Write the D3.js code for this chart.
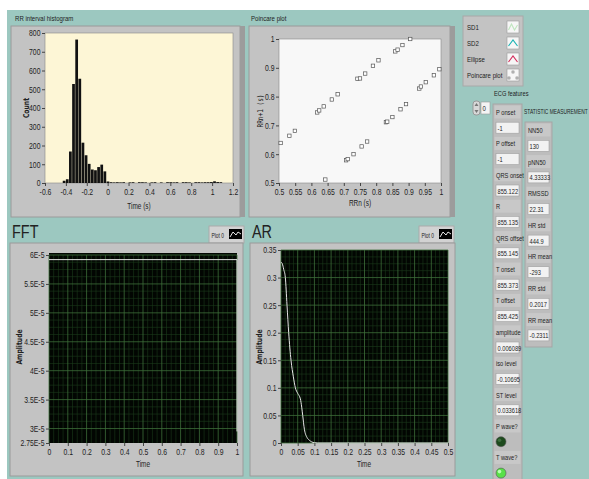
<!DOCTYPE html>
<html>
<head>
<meta charset="utf-8">
<script src="https://cdnjs.cloudflare.com/ajax/libs/d3/7.8.5/d3.min.js"></script>
<style>
  body { margin: 0; background: #fff; }
  text { font-family: "Liberation Sans", Arial, sans-serif; fill: #222; }
</style>
</head>
<body>
<div id="chart"></div>
<script>
// ---- data ----
// RR interval histogram: bins of 0.03 s starting at -0.43 s
const histStart = -0.43;
const histBinWidth = 0.03;
const histCounts = [12, 20, 168, 528, 765, 556, 215, 148, 102, 72, 68, 85, 98, 62, 8,
  4, 3, 4, 3, 4, 0, 3, 4, 0, 4, 4, 3, 0, 3, 4, 0, 3, 0, 4, 4, 3, 4, 0, 4, 4,
  3, 0, 4, 4, 3, 4, 4, 5, 9, 5, 4, 0];

// Poincare plot
const pcRRn  = [0.505, 0.532, 0.549, 0.618, 0.624, 0.638, 0.663, 0.681, 0.742, 0.750, 0.766, 0.790, 0.807, 0.859, 0.866, 0.881, 0.905,
                0.643, 0.707, 0.712, 0.730, 0.755, 0.772, 0.830, 0.834, 0.850, 0.875, 0.892, 0.933, 0.938, 0.953, 0.978, 0.995];
const pcRRn1 = [0.639, 0.664, 0.681, 0.745, 0.752, 0.766, 0.790, 0.808, 0.862, 0.863, 0.880, 0.907, 0.926, 0.957, 0.963, 0.979, 1.000,
                0.512, 0.579, 0.583, 0.600, 0.627, 0.644, 0.711, 0.713, 0.729, 0.756, 0.774, 0.828, 0.835, 0.850, 0.874, 0.895];

// FFT
const fftTime = [0, 1, 1];
const fftAmp  = [5.92e-5, 5.92e-5, 2.95e-5];
const fftYTicks = [2.75e-5, 3e-5, 3.5e-5, 4e-5, 4.5e-5, 5e-5, 5.5e-5, 6e-5];

// AR
const arTime = [0, 0.004, 0.008, 0.013, 0.018, 0.023, 0.03, 0.037, 0.043, 0.05, 0.058, 0.062, 0.065, 0.07, 0.078, 0.085, 0.092, 0.1, 0.11, 0.5];
const arAmp  = [0.328, 0.325, 0.315, 0.3, 0.25, 0.2, 0.15, 0.12, 0.1, 0.09, 0.08, 0.065, 0.05, 0.025, 0.01, 0.005, 0.002, 0.0005, 0, 0];

// right hand side
const legendNames = ["SD1", "SD2", "Ellipse", "Poincare plot"];
const ecgLabels = ["P onset", "P offset", "QRS onset", "R", "QRS offset", "T onset", "T offset", "amplitude", "iso level", "ST level", "P wave?", "T wave?"];
const ecgValues = ["-1", "-1", "855.122", "855.135", "855.145", "855.373", "855.425", "0.006089", "-0.10695", "0.033618", "off", "on"];
const statLabels = ["NN50", "pNN50", "RMSSD", "HR std", "HR mean", "RR std", "RR mean"];
const statValues = ["130", "4.33333", "22.31", "444.9", "-293", "0.2017", "-0.2311"];

// ---- drawing ----
const SX = 0.76; // LabVIEW's fonts are narrow, squeeze the text horizontally

const svg = d3.select("#chart").append("svg")
    .attr("width", 589)
    .attr("height", 479);

svg.append("rect").attr("x", 7).attr("y", 10).attr("width", 582).attr("height", 469).attr("fill", "#9cc8c0");

// narrow text helper
function label(parent, x, y, s, size, rot, sx) {
    return parent.append("text")
        .attr("transform", `translate(${x},${y})${rot ? " rotate(" + rot + ")" : ""} scale(${sx || SX},1)`)
        .style("font-size", size + "px")
        .text(s);
}

function frame(x, y, w, h) {
    svg.append("rect").attr("x", x).attr("y", y).attr("width", w).attr("height", h)
        .attr("fill", "#c3c3c3").attr("stroke", "#9a9a9a");
}

function styleAxis(g) {
    g.select(".domain").remove();
    g.selectAll(".tick line").attr("stroke", "#444");
    g.selectAll(".tick text").style("font-size", "9px").attr("fill", "#222")
        .attr("transform", `scale(${SX},1)`);
}

// grid with minor lines between majors
function grid(g, x, y, xt, yt, sub, majorCol, minorCol) {
    const [x0, x1] = x.range(), [y0, y1] = y.range();
    const minor = (t) => {
        const out = [];
        for (let i = 0; i < t.length - 1; i++)
            for (let k = 1; k < sub; k++) out.push(t[i] + (t[i + 1] - t[i]) * k / sub);
        return out;
    };
    g.selectAll(null).data(minor(xt)).enter().append("line")
        .attr("x1", d => x(d)).attr("x2", d => x(d)).attr("y1", y0).attr("y2", y1)
        .attr("stroke", minorCol).attr("stroke-width", 0.6);
    g.selectAll(null).data(minor(yt)).enter().append("line")
        .attr("y1", d => y(d)).attr("y2", d => y(d)).attr("x1", x0).attr("x2", x1)
        .attr("stroke", minorCol).attr("stroke-width", 0.6);
    g.selectAll(null).data(xt).enter().append("line")
        .attr("x1", d => x(d)).attr("x2", d => x(d)).attr("y1", y0).attr("y2", y1)
        .attr("stroke", majorCol).attr("stroke-width", 0.8);
    g.selectAll(null).data(yt).enter().append("line")
        .attr("y1", d => y(d)).attr("y2", d => y(d)).attr("x1", x0).attr("x2", x1)
        .attr("stroke", majorCol).attr("stroke-width", 0.8);
}

const fmt = d => String(+d.toFixed(3));

// ---------- RR interval histogram ----------
label(svg, 15, 21, "RR interval histogram", 8);
frame(11, 26, 229, 191);
svg.append("rect").attr("x", 240).attr("y", 26).attr("width", 5).attr("height", 191).attr("fill", "#9c9c9c");

const hx = d3.scaleLinear().domain([-0.6, 1.2]).range([45, 233]);
const hy = d3.scaleLinear().domain([0, 800]).range([183, 33]);

svg.append("rect").attr("x", 45).attr("y", 33).attr("width", 188).attr("height", 150)
    .attr("fill", "#fdf6d6").attr("stroke", "#888").attr("stroke-width", 0.6);

svg.append("g").selectAll("rect").data(histCounts).enter().append("rect")
    .attr("x", (d, i) => hx(histStart + i * histBinWidth))
    .attr("width", hx(histBinWidth) - hx(0) - 0.4)
    .attr("y", d => hy(d))
    .attr("height", d => hy(0) - hy(d))
    .attr("fill", "#111");

svg.append("g").attr("transform", "translate(0,183)")
    .call(d3.axisBottom(hx).tickValues(d3.range(-0.6, 1.21, 0.2)).tickFormat(fmt).tickSize(3))
    .call(styleAxis);
svg.append("g").attr("transform", "translate(45,0)")
    .call(d3.axisLeft(hy).tickValues(d3.range(0, 801, 100)).tickSize(3))
    .call(styleAxis);
label(svg, 139, 209, "Time (s)", 8.5).attr("text-anchor", "middle");
label(svg, 29, 108, "Count", 8, -90).attr("text-anchor", "middle")
    .style("font-family", "DejaVu Sans").style("font-weight", "bold").attr("fill", "#333");

// ---------- Poincare plot ----------
label(svg, 251, 21, "Poincare plot", 8);
frame(249, 26, 201, 191);
svg.append("rect").attr("x", 450).attr("y", 26).attr("width", 5).attr("height", 191).attr("fill", "#9c9c9c");

const px = d3.scaleLinear().domain([0.5, 1]).range([279, 441]);
const py = d3.scaleLinear().domain([0.5, 1]).range([183, 39]);

svg.append("rect").attr("x", 279).attr("y", 39).attr("width", 162).attr("height", 144)
    .attr("fill", "#f8f8f8").attr("stroke", "#888").attr("stroke-width", 0.6);

svg.append("g").selectAll("rect").data(pcRRn).enter().append("rect")
    .attr("x", (d, i) => px(d) - 1.7)
    .attr("y", (d, i) => py(pcRRn1[i]) - 1.7)
    .attr("width", 3.4).attr("height", 3.4)
    .attr("fill", "#fff").attr("stroke", "#555").attr("stroke-width", 0.7);

svg.append("g").attr("transform", "translate(0,183)")
    .call(d3.axisBottom(px).tickValues(d3.range(0.5, 1.001, 0.05)).tickFormat(fmt).tickSize(3))
    .call(styleAxis);
svg.append("g").attr("transform", "translate(279,0)")
    .call(d3.axisLeft(py).tickValues(d3.range(0.5, 1.001, 0.1)).tickFormat(fmt).tickSize(3))
    .call(styleAxis);
label(svg, 360, 206, "RRn (s)", 8.5).attr("text-anchor", "middle");
label(svg, 263, 111, "RRn+1 (s)", 8, -90).attr("text-anchor", "middle")
    .style("font-family", "DejaVu Sans Mono").attr("fill", "#333");

// ---------- FFT / AR shared pieces ----------
function plotLegend(x, y) {
    const g = svg.append("g").attr("transform", `translate(${x},${y})`);
    g.append("rect").attr("width", 35).attr("height", 17).attr("fill", "#d2d2d2").attr("stroke", "#aaa");
    label(g, 2.5, 11.5, "Plot 0", 7, 0, 0.7);
    g.append("rect").attr("x", 20).attr("y", 3).attr("width", 13).attr("height", 10).attr("fill", "#000");
    g.append("path").attr("d", "M21,11 L24,6 L27,9 L29,6 L32,8").attr("fill", "none").attr("stroke", "#fff").attr("stroke-width", 0.9);
}

// ---------- FFT ----------
label(svg, 12, 238, "FFT", 19);
plotLegend(209, 226);
frame(10, 243, 233, 233);

const fx = d3.scaleLinear().domain([0, 1]).range([49, 237]);
const fy = d3.scaleLinear().domain([2.75e-5, 6e-5]).range([443, 255]);

svg.append("rect").attr("x", 49).attr("y", 253).attr("width", 188).attr("height", 190).attr("fill", "#020602");
grid(svg.append("g"), fx, fy, d3.range(0, 1.001, 0.1), fftYTicks.slice(1), 4, "#3d6e3a", "#1b3a1b");

svg.append("path")
    .datum(fftTime.map((t, i) => [t, fftAmp[i]]))
    .attr("d", d3.line().x(d => fx(d[0])).y(d => fy(d[1])))
    .attr("fill", "none").attr("stroke", "#e6e6e6").attr("stroke-width", 1);

svg.append("g").attr("transform", "translate(0,443)")
    .call(d3.axisBottom(fx).tickValues(d3.range(0, 1.001, 0.1)).tickFormat(fmt).tickSize(3))
    .call(styleAxis);
svg.append("g").attr("transform", "translate(49,0)")
    .call(d3.axisLeft(fy).tickValues(fftYTicks).tickFormat(d => +(d * 1e5).toFixed(2) + "E-5").tickSize(3))
    .call(styleAxis);
label(svg, 143, 467, "Time", 8.5).attr("text-anchor", "middle");
label(svg, 22, 347, "Amplitude", 8, -90).attr("text-anchor", "middle")
    .style("font-family", "DejaVu Sans").style("font-weight", "bold").attr("fill", "#333");

// ---------- AR ----------
label(svg, 252, 238, "AR", 19);
plotLegend(419, 226);
frame(250, 243, 205, 233);

const ax = d3.scaleLinear().domain([0, 0.5]).range([281, 448]);
const ay = d3.scaleLinear().domain([0, 0.35]).range([443, 250]);

svg.append("rect").attr("x", 281).attr("y", 250).attr("width", 167).attr("height", 193).attr("fill", "#020602");
grid(svg.append("g"), ax, ay, d3.range(0, 0.501, 0.05), d3.range(0, 0.351, 0.05), 4, "#3d6e3a", "#1b3a1b");

svg.append("path")
    .datum(arTime.map((t, i) => [t, arAmp[i]]))
    .attr("d", d3.line().curve(d3.curveMonotoneX).x(d => ax(d[0])).y(d => ay(d[1])))
    .attr("fill", "none").attr("stroke", "#e6e6e6").attr("stroke-width", 1);

svg.append("g").attr("transform", "translate(0,443)")
    .call(d3.axisBottom(ax).tickValues(d3.range(0, 0.501, 0.05)).tickFormat(fmt).tickSize(3))
    .call(styleAxis);
svg.append("g").attr("transform", "translate(281,0)")
    .call(d3.axisLeft(ay).tickValues(d3.range(0, 0.351, 0.05)).tickFormat(fmt).tickSize(3))
    .call(styleAxis);
label(svg, 364, 467, "Time", 8.5).attr("text-anchor", "middle");
label(svg, 262, 347, "Amplitude", 8, -90).attr("text-anchor", "middle")
    .style("font-family", "DejaVu Sans").style("font-weight", "bold").attr("fill", "#333");

// ---------- plot legend (top right) ----------
const lg = svg.append("g");
lg.append("rect").attr("x", 463).attr("y", 16).attr("width", 60).attr("height", 70).attr("fill", "#c3c3c3").attr("stroke", "#a8a8a8");
const iconPaths = [
    {d: "M1,9 L4,3 L7,9 L10,4", c: "#bfe6bf"},
    {d: "M1,9 L5.5,3 L10,9", c: "#19b3b3"},
    {d: "M1,9 L5.5,3 L10,9", c: "#d42d5c"}
];
legendNames.forEach((name, i) => {
    const y = 21 + i * 16;
    label(lg, 467, y + 8.5, name, 8);
    lg.append("rect").attr("x", 507).attr("y", y).attr("width", 12).attr("height", 12).attr("fill", "#f6f6f6").attr("stroke", "#9a9a9a").attr("stroke-width", 0.6);
    if (i < 3) {
        lg.append("path").attr("transform", `translate(507.5,${y})`).attr("d", iconPaths[i].d)
            .attr("fill", "none").attr("stroke", iconPaths[i].c).attr("stroke-width", 1.1);
    } else {
        [[6, 3], [2, 9], [10, 9]].forEach(p => lg.append("rect").attr("x", 507 + p[0] - 1).attr("y", y + p[1] - 1)
            .attr("width", 2).attr("height", 2).attr("fill", "none").attr("stroke", "#555").attr("stroke-width", 0.5));
    }
});

// ---------- ECG features ----------
label(svg, 494, 96, "ECG features", 7.5);
// index control
svg.append("rect").attr("x", 473).attr("y", 101).attr("width", 7).attr("height", 14).attr("rx", 3).attr("fill", "#d8d8d8").attr("stroke", "#999");
svg.append("path").attr("d", "M474.5,106 L476.5,103 L478.5,106 Z M474.5,110 L476.5,113 L478.5,110 Z").attr("fill", "#777");
svg.append("rect").attr("x", 481).attr("y", 102).attr("width", 9).attr("height", 12).attr("fill", "#f4f4f4").attr("stroke", "#999").attr("stroke-width", 0.6);
label(svg, 482.5, 111, "0", 8);

const rowY = (k) => 112 + 15.7 * k;
svg.append("rect").attr("x", 493).attr("y", 104).attr("width", 29).attr("height", 380).attr("fill", "#bdbdbd").attr("stroke", "#a5a5a5");

ecgLabels.forEach((lab, i) => {
    const yl = rowY(2 * i), yv = rowY(2 * i + 1);
    svg.append("rect").attr("x", 494.5).attr("y", yl - 6.5).attr("width", 26).attr("height", 13).attr("fill", "#c8c8c8");
    label(svg, 496, yl + 3, lab, 7.5);
    const v = ecgValues[i];
    if (v === "off" || v === "on") {
        svg.append("circle").attr("cx", 501).attr("cy", yv).attr("r", 5)
            .attr("fill", v === "on" ? "#58e048" : "#1d4a1d").attr("stroke", "#555").attr("stroke-width", 0.6);
        svg.append("circle").attr("cx", 499.5).attr("cy", yv - 1.5).attr("r", 1.8)
            .attr("fill", v === "on" ? "#b8ffb0" : "#3d6e3d");
    } else {
        svg.append("rect").attr("x", 496).attr("y", yv - 5.5).attr("width", 23).attr("height", 11)
            .attr("fill", "#f2f2f2").attr("stroke", "#a0a0a0").attr("stroke-width", 0.6);
        label(svg, 497.5, yv + 3, v, 7.5);
    }
});

// ---------- STATISTIC MEASUREMENT ----------
label(svg, 524, 114, "STATISTIC MEASUREMENT", 7, 0, 0.7);
const statY = (k) => 130 + 15.8 * k;
svg.append("rect").attr("x", 525).attr("y", 122).attr("width", 27).attr("height", 225).attr("fill", "#bdbdbd").attr("stroke", "#a5a5a5");
statLabels.forEach((lab, i) => {
    const yl = statY(2 * i), yv = statY(2 * i + 1);
    svg.append("rect").attr("x", 526.5).attr("y", yl - 6.5).attr("width", 24).attr("height", 13).attr("fill", "#c8c8c8");
    label(svg, 528, yl + 3, lab, 7.5);
    svg.append("rect").attr("x", 528).attr("y", yv - 5.5).attr("width", 21).attr("height", 11)
        .attr("fill", "#f2f2f2").attr("stroke", "#a0a0a0").attr("stroke-width", 0.6);
    label(svg, 529.5, yv + 3, statValues[i], 7.5);
});
</script>
</body>
</html>
